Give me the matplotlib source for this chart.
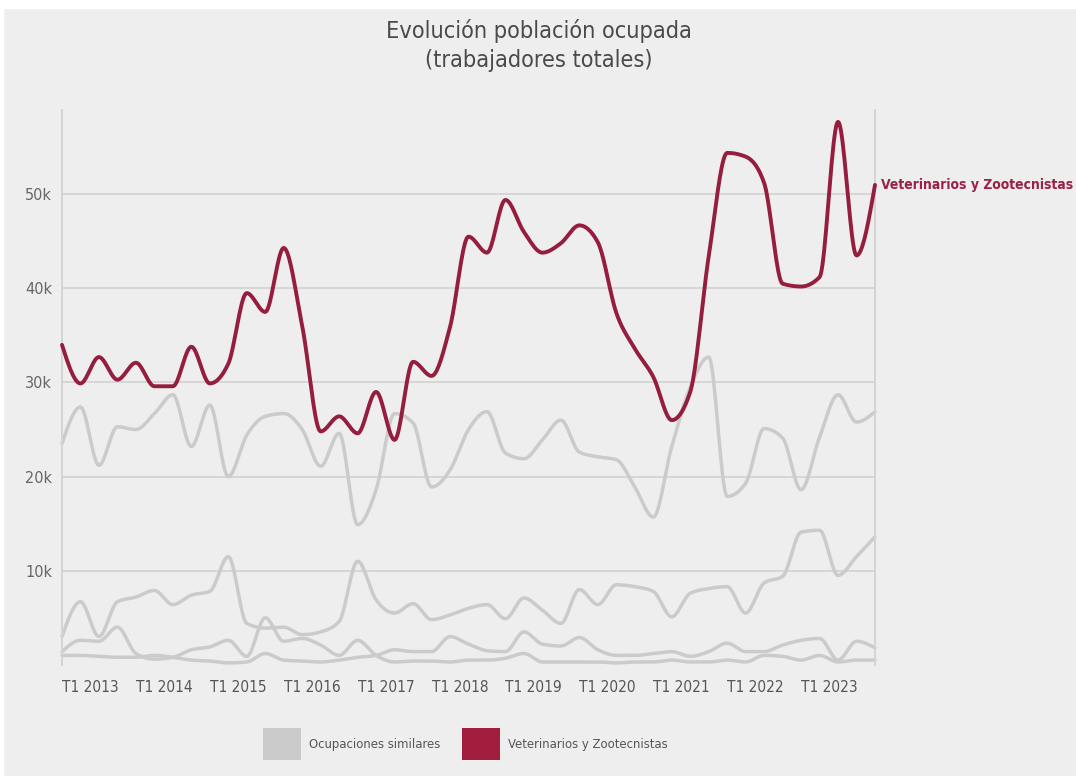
import numpy as np
import matplotlib
matplotlib.use("Agg")
import matplotlib.pyplot as plt
from matplotlib.patches import Patch, Rectangle
from matplotlib import font_manager as fm

# ---------------- data (thousands of workers, quarterly T1 2013 .. T1 2024) -------------
tick_labels = ["T1 2013", "T1 2014", "T1 2015", "T1 2016", "T1 2017", "T1 2018",
               "T1 2019", "T1 2020", "T1 2021", "T1 2022", "T1 2023"]

veterinarios = [34.0, 29.9, 32.7, 30.3, 32.1, 29.6, 29.6, 33.8, 29.9, 32.0,
                39.5, 37.5, 44.3, 36.0, 24.8, 26.4, 24.6, 29.0, 23.9, 32.2,
                30.7, 35.9, 45.5, 43.8, 49.4, 46.0, 43.8, 44.8, 46.7, 44.9,
                37.4, 33.6, 30.6, 26.0, 29.0, 43.4, 54.4, 54.0, 51.2, 40.5,
                40.2, 41.2, 57.7, 43.5, 51.0]

similar_1 = [23.5, 27.4, 21.2, 25.3, 25.0, 26.7, 28.7, 23.2, 27.6, 20.0,
             24.4, 26.4, 26.7, 25.0, 21.1, 24.6, 14.9, 18.6, 26.7, 25.7,
             18.9, 20.7, 25.0, 26.9, 22.5, 21.9, 23.9, 26.0, 22.6, 22.1,
             21.8, 18.9, 15.7, 23.2, 29.5, 32.7, 17.9, 19.3, 25.1, 24.1,
             18.6, 24.2, 28.7, 25.8, 26.9]

similar_2 = [3.0, 6.7, 3.0, 6.7, 7.2, 7.9, 6.4, 7.4, 7.8, 11.5,
             4.4, 3.9, 4.0, 3.2, 3.5, 4.6, 11.0, 6.9, 5.5, 6.5,
             4.8, 5.3, 6.0, 6.4, 4.9, 7.1, 5.8, 4.4, 8.0, 6.4,
             8.5, 8.3, 7.8, 5.1, 7.6, 8.1, 8.3, 5.5, 8.7, 9.4,
             14.1, 14.3, 9.5, 11.5, 13.6]

similar_3 = [1.4, 2.6, 2.5, 4.0, 1.2, 0.6, 0.8, 1.6, 1.9, 2.6,
             0.9, 5.0, 2.5, 2.8, 2.1, 1.0, 2.6, 1.0, 0.3, 0.4,
             0.4, 0.3, 0.5, 0.5, 0.7, 1.2, 0.3, 0.3, 0.3, 0.3,
             0.2, 0.3, 0.3, 0.5, 0.3, 0.3, 0.5, 0.3, 1.0, 0.9,
             0.5, 1.0, 0.3, 0.5, 0.5]

similar_4 = [1.0, 1.0, 0.9, 0.8, 0.8, 1.0, 0.8, 0.5, 0.4, 0.2,
             0.3, 1.2, 0.5, 0.4, 0.3, 0.5, 0.8, 1.0, 1.6, 1.4,
             1.4, 3.0, 2.2, 1.5, 1.4, 3.5, 2.2, 2.0, 2.9, 1.6,
             1.0, 1.0, 1.2, 1.4, 0.9, 1.4, 2.3, 1.4, 1.4, 2.1,
             2.6, 2.8, 0.5, 2.5, 1.8]

y_ticks = [10, 20, 30, 40, 50]
y_tick_labels = ["10k", "20k", "30k", "40k", "50k"]

title_lines = ["Evolución población ocupada", "(trabajadores totales)"]
main_label = "Veterinarios y Zootecnistas"
other_label = "Ocupaciones similares"


# ---------------- monotone (d3 curveMonotoneX-like) rendering of a line ----------------
def monotone_curve(y, n=20):
    y = np.asarray(y, dtype=float)
    x = np.arange(len(y), dtype=float)
    h = np.diff(x)
    s = np.diff(y) / h
    m = np.zeros_like(y)
    for i in range(1, len(y) - 1):
        p = (s[i - 1] * h[i] + s[i] * h[i - 1]) / (h[i - 1] + h[i])
        m[i] = (np.sign(s[i - 1]) + np.sign(s[i])) * min(abs(s[i - 1]), abs(s[i]), 0.5 * abs(p))
    m[0] = (3 * s[0] - m[1]) / 2
    m[-1] = (3 * s[-1] - m[-2]) / 2
    xs, ys = [], []
    for i in range(len(y) - 1):
        t = np.linspace(0, 1, n, endpoint=(i == len(y) - 2))
        h00 = 2 * t**3 - 3 * t**2 + 1
        h10 = t**3 - 2 * t**2 + t
        h01 = -2 * t**3 + 3 * t**2
        h11 = t**3 - t**2
        xs.append(x[i] + t * h[i])
        ys.append(h00 * y[i] + h10 * h[i] * m[i] + h01 * y[i + 1] + h11 * h[i] * m[i + 1])
    return np.concatenate(xs), np.concatenate(ys)


# ---------------- font choice: a narrow face if one is installed ----------------
def pick_font():
    for fam, stretch in [("Liberation Sans Narrow", "normal"), ("DejaVu Sans", "condensed"),
                         ("Roboto Condensed", "normal"), ("Noto Sans", "condensed")]:
        try:
            path = fm.findfont(fm.FontProperties(family=fam, stretch=stretch),
                               fallback_to_default=False)
        except Exception:
            continue
        low = path.lower()
        if "narrow" in low or "condensed" in low:
            return fam, stretch
    return "DejaVu Sans", "normal"


FAM, STRETCH = pick_font()

BG = "#eeeeee"
GRAY = "#cbcbcb"
RED = "#951d3d"

W, H = 1076, 776
fig = plt.figure(figsize=(W / 100, H / 100), dpi=100, facecolor=BG)
renderer = fig.canvas.get_renderer()


def size_for(text, target_px, weight="normal", max_size=None):
    t = fig.text(0, 0, text, family=[FAM, "DejaVu Sans"], fontstretch=STRETCH,
                 fontweight=weight, fontsize=10)
    w = t.get_window_extent(renderer).width
    t.remove()
    s = 10 * target_px / w
    return min(s, max_size) if max_size else s


def fprops(size, weight="normal"):
    return fm.FontProperties(family=[FAM, "DejaVu Sans"], stretch=STRETCH,
                             weight=weight, size=size)


title_size = size_for(title_lines[0], 307, max_size=19)
ytick_size = size_for("50k", 27, max_size=13)
xtick_size = size_for("T1 2013", 57, max_size=13)
label_size = size_for(main_label, 193, weight="bold", max_size=12)
legend_size = size_for(other_label, 132, max_size=10.5)

# white screenshot border
fig.patches.append(Rectangle((0, 1 - 8 / H), 1, 8 / H, transform=fig.transFigure,
                             color="white", zorder=-10))
fig.patches.append(Rectangle((0, 0), 3 / W, 1, transform=fig.transFigure,
                             color="white", zorder=-10))

left_px, right_px, zero_px, top_px = 62, 875, 664.8, 110
ax = fig.add_axes([left_px / W, 1 - zero_px / H, (right_px - left_px) / W, (zero_px - top_px) / H])
ax.set_facecolor("none")
n = len(veterinarios)
ax.set_xlim(0, n - 1)
ax.set_ylim(0, (zero_px - top_px) / 94.1 * 10)

for s in (similar_1, similar_2, similar_3, similar_4):
    xs, ys = monotone_curve(s)
    ax.plot(xs, ys, color=GRAY, lw=2.5, solid_capstyle="round", clip_on=False, zorder=2)

xs, ys = monotone_curve(veterinarios)
ax.plot(xs, ys, color=RED, lw=2.8, solid_capstyle="round", clip_on=False, zorder=3)

ax.text(n - 1 + 0.3, veterinarios[-1], main_label, color="#9b2246",
        fontproperties=fprops(label_size, "bold"), ha="left", va="center", clip_on=False)

# axes styling
for side in ("top", "bottom"):
    ax.spines[side].set_visible(False)
for side in ("left", "right"):
    ax.spines[side].set_color("#d4d4d4")
    ax.spines[side].set_linewidth(1.4)

ax.set_yticks(y_ticks)
ax.set_yticklabels(y_tick_labels, fontproperties=fprops(ytick_size), color="#666666")
ax.yaxis.grid(True, color="#d6d6d6", lw=1.4)
ax.set_axisbelow(True)
ax.set_xticks(list(range(0, 41, 4)))
ax.set_xticklabels(tick_labels, fontproperties=fprops(xtick_size), color="#555555", ha="left")
ax.tick_params(axis="both", length=0)
ax.tick_params(axis="y", pad=7)
ax.tick_params(axis="x", pad=11)

fig.text(0.5005, 1 - 31 / H, title_lines[0], ha="center", va="center",
         fontproperties=fprops(title_size), color="#4a4a4a")
fig.text(0.5005, 1 - 61 / H, title_lines[1], ha="center", va="center",
         fontproperties=fprops(title_size), color="#4a4a4a")

handles = [Patch(facecolor=GRAY, edgecolor="none"), Patch(facecolor="#a31d3e", edgecolor="none")]
leg_px = legend_size / 0.72
fig.legend(handles, [other_label, main_label], loc="center",
           bbox_to_anchor=(465 / W, 1 - 744 / H), ncol=2, frameon=False,
           prop=fprops(legend_size), labelcolor="#555555",
           handlelength=38 / leg_px, handleheight=44 / leg_px,
           handletextpad=8 / leg_px, columnspacing=22 / leg_px)

fig.savefig("out.png", dpi=100, facecolor=BG)
